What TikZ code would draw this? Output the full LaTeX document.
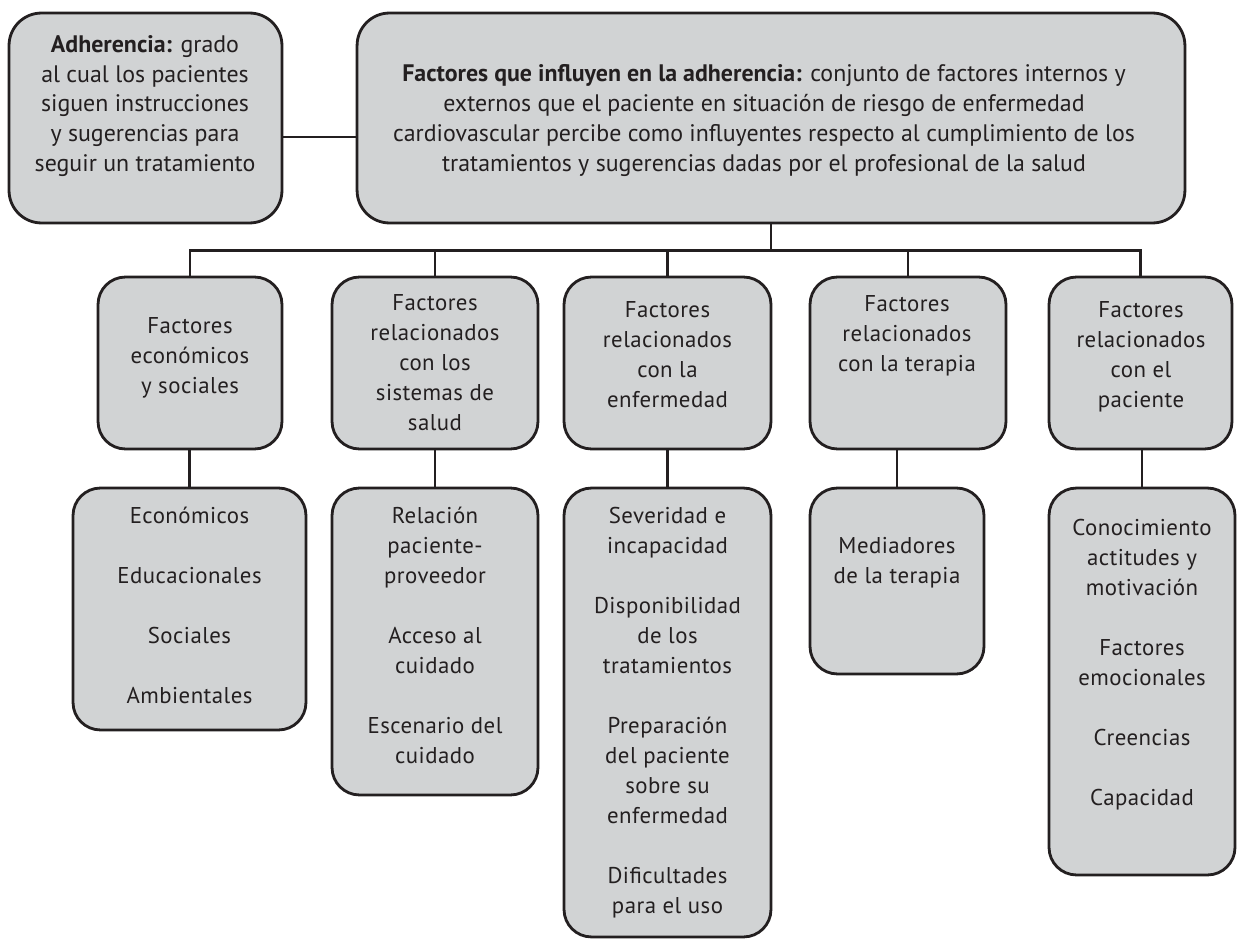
\documentclass[tikz,border=0pt]{standalone}
\usepackage{fontspec}
\setmainfont{PT Sans}
\newfontfamily\fontlivello[LetterSpace=2]{PT Sans}
\usetikzlibrary{positioning}
\definecolor{grigiobox}{HTML}{D1D3D4}
\definecolor{tratto}{HTML}{231F20}

\begin{document}
\begin{tikzpicture}[x=0.02cm,y=-0.02cm]
% definizione stili dei riquadri e dei testi
\tikzset{mybox/.style={rectangle, rounded corners=0.55cm, draw=tratto, fill=grigiobox, line width=1.6pt, inner sep=0pt}}
\tikzset{mytext/.style={align=center, inner sep=0pt, text=tratto, font=\fontsize{13.6}{17.07}\selectfont, execute at begin node=\strut, execute at end node=\strut}}
\tikzset{mytextliv/.style={mytext, font=\fontlivello\fontsize{13}{17.07}\selectfont}}
\tikzset{myline/.style={draw=tratto, line width=1.5pt}}

\useasboundingbox (0,0) rectangle (1237,939);

%----
% riquadri superiori
\node[mybox, rounded corners=0.65cm, minimum width=5.46cm, minimum height=4.2cm] (adh) at (145.5,118) {};
\node[mybox, rounded corners=0.65cm, minimum width=16.56cm, minimum height=4.2cm] (def) at (771,118) {};
\node[mytext] (t-adh) at (145,108) {\textbf{Adherencia:} grado\\al cual los pacientes\\siguen instrucciones\\y sugerencias para\\seguir un tratamiento};
\node[mytext] (t-def) at (764,122.5) {\textbf{Factores que influyen en la adherencia:} conjunto de factores internos y\\externos que el paciente en situación de riesgo de enfermedad\\cardiovascular percibe como influyentes respecto al cumplimiento de los\\tratamientos y sugerencias dadas por el profesional de la salud};

% riquadri dei fattori
\foreach \n/\x/\w in {b1/190/3.68, b2/435/4.12, b3/667.5/4.14, b4/908/3.92, b5/1140.5/3.66}
\node[mybox, minimum width=\w cm, minimum height=3.44cm] (\n) at (\x,363) {};
\node[mytextliv] (t-b1) at (190,359.7) {Factores\\económicos\\y sociales};
\node[mytextliv] (t-b2) at (435,367) {Factores\\relacionados\\con los\\sistemas de\\salud};
\node[mytextliv] (t-b3) at (667.5,359) {Factores\\relacionados\\con la\\enfermedad};
\node[mytextliv] (t-b4) at (907,338) {Factores\\relacionados\\con la terapia};
\node[mytextliv] (t-b5) at (1141,359) {Factores\\relacionados\\con el\\paciente};

% riquadri dei dettagli
\node[mybox, minimum width=4.66cm, minimum height=4.84cm] (c1) at (189.5,609) {};
\node[mybox, minimum width=4.12cm, minimum height=6.14cm] (c2) at (435,641.5) {};
\node[mybox, minimum width=4.14cm, minimum height=8.98cm] (c3) at (667.5,712.5) {};
\node[mybox, minimum width=3.48cm, minimum height=3.72cm] (c4) at (897,581) {};
\node[mybox, minimum width=3.72cm, minimum height=7.74cm] (c5) at (1142,681.5) {};
\node[mytextliv] (t-c1) at (189.5,610) {Económicos\\[0.6cm]Educacionales\\[0.6cm]Sociales\\[0.6cm]Ambientales};
\node[mytextliv] (t-c2) at (435,640) {Relación\\paciente-\\proveedor\\[0.6cm]Acceso al\\cuidado\\[0.6cm]Escenario del\\cuidado};
\node[mytextliv] (t-c3) at (667.5,715) {Severidad e\\incapacidad\\[0.6cm]Disponibilidad\\de los\\tratamientos\\[0.6cm]Preparación\\del paciente\\sobre su\\enfermedad\\[0.6cm]Dificultades\\para el uso};
\node[mytextliv] (t-c4) at (897,565) {Mediadores\\de la terapia};
\node[mytextliv] (t-c5) at (1142,667) {Conocimiento\\actitudes y\\motivación\\[0.6cm]Factores\\emocionales\\[0.6cm]Creencias\\[0.6cm]Capacidad};

% collegamenti
\draw[myline] ([yshift=-0.38cm]adh.east) -- ([yshift=-0.38cm]def.west);
\coordinate (giunto) at ([yshift=-0.52cm]def.south);
\draw[myline] (def.south) -- (giunto);
\draw[myline] (b1.north) -- (b1.north |- giunto) -- (b5.north |- giunto) -- (b5.north);
\foreach \n in {b2,b3,b4}
\draw[myline] (\n.north |- giunto) -- (\n.north);
\foreach \b/\c in {b1/c1,b2/c2,b3/c3,b4/c4,b5/c5}
\draw[myline] (\c.north) -- (\c.north |- \b.south);
\end{tikzpicture}
\end{document}
